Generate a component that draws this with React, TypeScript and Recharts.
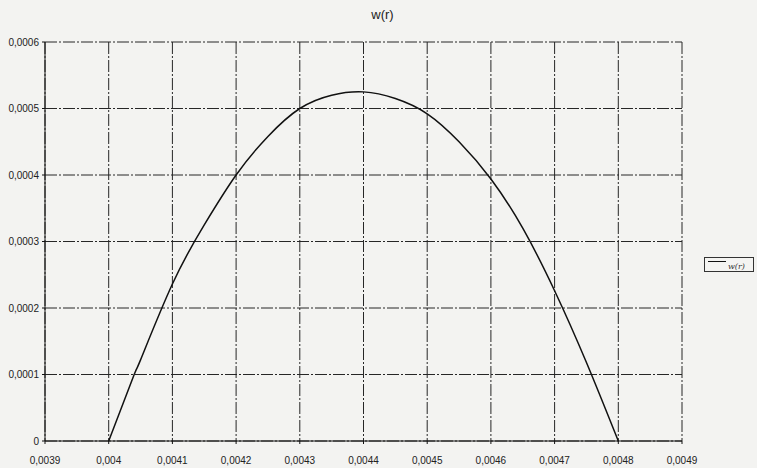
import React from 'react';
import { LineChart, Line, XAxis, YAxis, CartesianGrid, Legend } from 'recharts';

const rValues = [0.004, 0.00404, 0.00405, 0.0041, 0.00415, 0.0042, 0.00425, 0.0043, 0.00435, 0.0044, 0.00445, 0.0045, 0.00455, 0.0046, 0.00465, 0.0047, 0.00475, 0.0048];
const wValues = [0, 0.0001, 0.000122, 0.000236, 0.000325, 0.0004, 0.000458, 0.0005, 0.00052, 0.000525, 0.000515, 0.000492, 0.00045, 0.000394, 0.00032, 0.000226, 0.000118, 0];
const xTicks = [0.0039, 0.004, 0.0041, 0.0042, 0.0043, 0.0044, 0.0045, 0.0046, 0.0047, 0.0048, 0.0049];
const yTicks = [0, 0.0001, 0.0002, 0.0003, 0.0004, 0.0005, 0.0006];
const seriesName = 'w(r)';
const title = 'w(r)';

const data = rValues.map((r, i) => ({ r, w: wValues[i] }));

const fmt = (v: number) => (v === 0 ? '0' : String(v).replace('.', ','));

const font = '"Liberation Sans", Arial, sans-serif';

const LegendBox = () => (
  <div
    style={{
      border: '1px solid #333',
      width: 50,
      height: 15,
      display: 'flex',
      alignItems: 'flex-end',
      background: '#f4f4f2',
      fontFamily: '"DejaVu Serif", serif',
      fontStyle: 'italic',
      fontSize: 8,
      color: '#333',
      boxSizing: 'border-box',
    }}
  >
    <div style={{ width: 18, borderTop: '1.5px solid #111', marginLeft: 3, marginBottom: 9 }} />
    <span style={{ marginLeft: 2, lineHeight: '9px' }}>{seriesName}</span>
  </div>
);

export default function App() {
  return (
    <div style={{ position: 'absolute', left: 0, top: 0, width: 757, height: 468, background: '#f3f3f1' }}>
      <div
        style={{
          position: 'absolute',
          left: 0,
          top: 7,
          width: 757,
          textAlign: 'center',
          fontFamily: font,
          fontSize: 13,
          color: '#222',
          paddingLeft: 4,
        }}
      >
        {title}
      </div>
      <LineChart width={757} height={468} data={data} margin={{ top: 42, right: 75, bottom: 0, left: 0 }}>
        <CartesianGrid stroke="#262626" strokeDasharray="12 2 2 2" strokeWidth={1} />
        <XAxis
          dataKey="r"
          type="number"
          domain={[0.0039, 0.0049]}
          ticks={xTicks}
          tickFormatter={fmt}
          height={27}
          tickSize={3}
          axisLine={{ stroke: '#111' }}
          tickLine={{ stroke: '#111' }}
          tick={{ fontFamily: font, fontSize: 10, fill: '#222' }}
          tickMargin={13}
          interval={0}
          allowDataOverflow
        />
        <YAxis
          type="number"
          domain={[0, 0.0006]}
          ticks={yTicks}
          tickFormatter={fmt}
          width={45}
          tickSize={3}
          axisLine={{ stroke: '#111' }}
          tickLine={{ stroke: '#111' }}
          tick={{ fontFamily: font, fontSize: 10, fill: '#222' }}
          tickMargin={3}
          interval={0}
        />
        <Legend
          layout="horizontal"
          align="center"
          verticalAlign="middle"
          wrapperStyle={{ left: 704, top: 257, width: 52 }}
          content={() => <LegendBox />}
        />
        <Line
          type="natural"
          dataKey="w"
          name={seriesName}
          stroke="#111"
          strokeWidth={1.5}
          dot={false}
          isAnimationActive={false}
        />
      </LineChart>
    </div>
  );
}
